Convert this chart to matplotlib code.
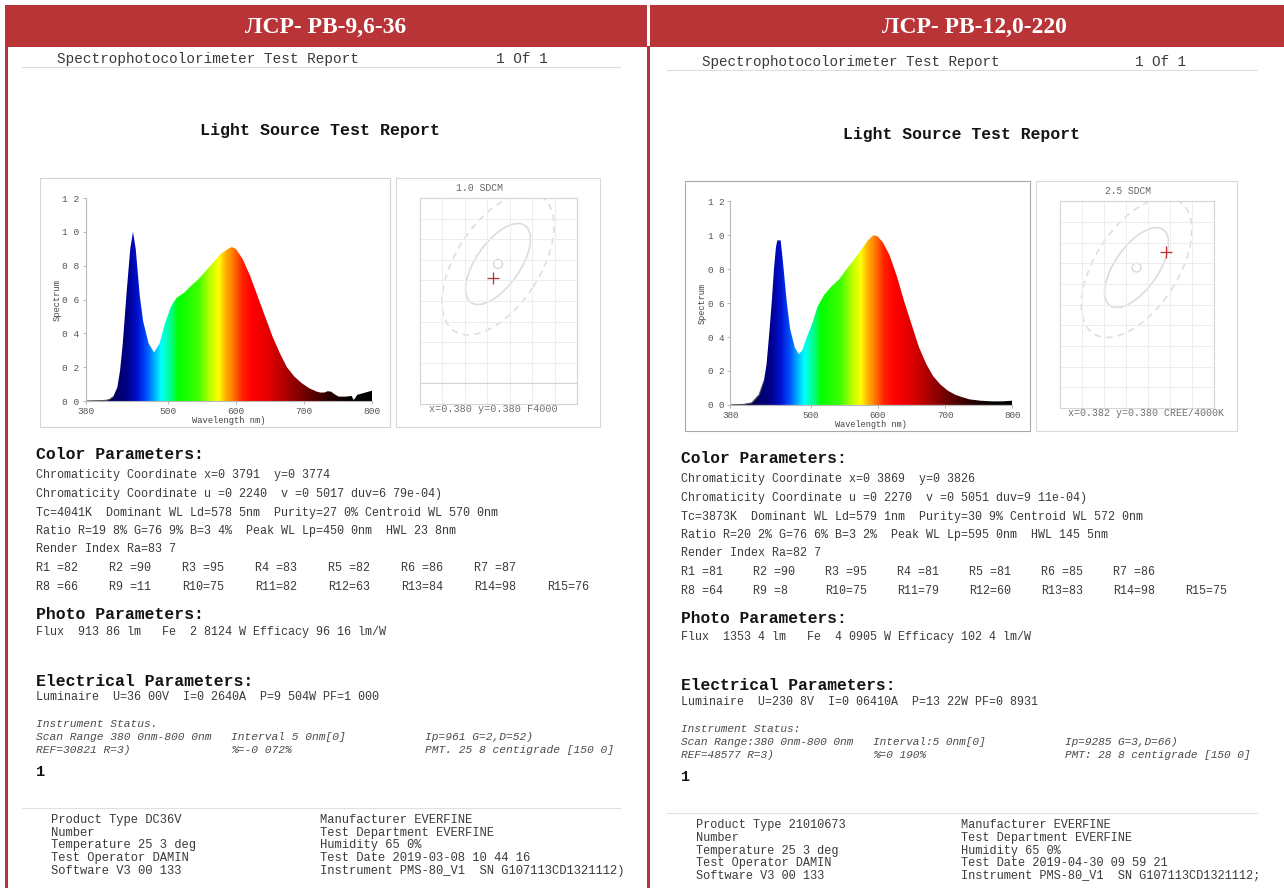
import matplotlib.pyplot as plt
import numpy as np
from matplotlib.colors import LinearSegmentedColormap
from matplotlib.patches import Ellipse, Polygon, Rectangle

W, H = 1284, 888
RED = '#b93436'
INK = '#3a3a3a'
DARK = '#141414'

plt.rcParams['font.family'] = ['Liberation Mono', 'DejaVu Sans']

# Заголовки двох протоколів
headers = ['ЛСР- РВ-9,6-36', 'ЛСР- РВ-12,0-220']

# Спектри: довжина хвилі (нм) і відносна інтенсивність
wl_left = [380, 400, 410, 415, 420, 426, 430, 434, 437, 440, 445, 449, 453, 456,
           459, 464, 472, 480, 488, 496, 505, 513, 524, 534, 545, 556, 567, 578,
           589, 594, 600, 610, 621, 632, 643, 654, 665, 675, 686, 697, 708, 719,
           724, 730, 735, 740, 745, 751, 762, 770, 773, 776, 778, 786, 800]
spec_left = [0.0, 0.002, 0.004, 0.01, 0.025, 0.08, 0.18, 0.34, 0.50, 0.66, 0.90,
             1.0, 0.90, 0.76, 0.62, 0.47, 0.34, 0.287, 0.34, 0.46, 0.56, 0.61, 0.64,
             0.68, 0.72, 0.77, 0.82, 0.87, 0.90, 0.91, 0.90, 0.84, 0.74, 0.62, 0.50,
             0.38, 0.28, 0.20, 0.144, 0.105, 0.075, 0.055, 0.05, 0.05, 0.058, 0.055,
             0.04, 0.026, 0.026, 0.03, 0.006, 0.02, 0.036, 0.045, 0.061]
wl_right = [380, 400, 412, 423, 430, 434, 438, 442, 445, 448, 450, 455, 458, 464,
            469, 476, 482, 487, 493, 502, 510, 520, 531, 542, 553, 564, 574, 585,
            593, 599, 607, 617, 628, 639, 650, 661, 672, 682, 693, 704, 715, 726,
            736, 752, 769, 785, 800]
spec_right = [0.0, 0.003, 0.012, 0.06, 0.14, 0.24, 0.42, 0.62, 0.80, 0.93, 0.97,
              0.97, 0.86, 0.61, 0.45, 0.34, 0.30, 0.32, 0.39, 0.48, 0.58, 0.65, 0.70,
              0.74, 0.80, 0.855, 0.91, 0.97, 1.0, 0.995, 0.96, 0.885, 0.76, 0.61,
              0.475, 0.34, 0.24, 0.17, 0.12, 0.084, 0.06, 0.045, 0.033, 0.025, 0.021,
              0.021, 0.025]
wavelengths = [wl_left, wl_right]
spectra = [spec_left, spec_right]

xtick_values = [380, 500, 600, 700, 800]
ytick_values = [0.0, 0.2, 0.4, 0.6, 0.8, 1.0, 1.2]
ytick_labels = ['0 0', '0 2', '0 4', '0 6', '0 8', '1 0', '1 2']

# Діаграма SDCM
sdcm_titles = ['1.0 SDCM', '2.5 SDCM']
sdcm_labels = ['x=0.380 y=0.380 F4000', 'x=0.382 y=0.380 CREE/4000K']
sdcm_centers = [(0.380, 0.380), (0.382, 0.380)]
measured_xy = [(0.3791, 0.3774), (0.3869, 0.3826)]

# Параметри кольору
color_lines_left = [
    'Chromaticity Coordinate x=0 3791  y=0 3774',
    'Chromaticity Coordinate u =0 2240  v =0 5017 duv=6 79e-04)',
    'Tc=4041K  Dominant WL Ld=578 5nm  Purity=27 0% Centroid WL 570 0nm',
    'Ratio R=19 8% G=76 9% B=3 4%  Peak WL Lp=450 0nm  HWL 23 8nm',
    'Render Index Ra=83 7',
]
color_lines_right = [
    'Chromaticity Coordinate x=0 3869  y=0 3826',
    'Chromaticity Coordinate u =0 2270  v =0 5051 duv=9 11e-04)',
    'Tc=3873K  Dominant WL Ld=579 1nm  Purity=30 9% Centroid WL 572 0nm',
    'Ratio R=20 2% G=76 6% B=3 2%  Peak WL Lp=595 0nm  HWL 145 5nm',
    'Render Index Ra=82 7',
]
ri_left = [82, 90, 95, 83, 82, 86, 87, 66, 11, 75, 82, 63, 84, 98, 76]
ri_right = [81, 90, 95, 81, 81, 85, 86, 64, 8, 75, 79, 60, 83, 98, 75]

photo_lines = ['Flux  913 86 lm   Fe  2 8124 W Efficacy 96 16 lm/W',
               'Flux  1353 4 lm   Fe  4 0905 W Efficacy 102 4 lm/W']
electric_lines = ['Luminaire  U=36 00V  I=0 2640A  P=9 504W PF=1 000',
                  'Luminaire  U=230 8V  I=0 06410A  P=13 22W PF=0 8931']

status_left = ['Instrument Status.',
               ['Scan Range 380 0nm-800 0nm', 'Interval 5 0nm[0]', 'Ip=961 G=2,D=52)'],
               ['REF=30821 R=3)', '%=-0 072%', 'PMT. 25 8 centigrade [150 0]']]
status_right = ['Instrument Status:',
                ['Scan Range:380 0nm-800 0nm', 'Interval:5 0nm[0]', 'Ip=9285 G=3,D=66)'],
                ['REF=48577 R=3)', '%=0 190%', 'PMT: 28 8 centigrade [150 0]']]

footer1_left = ['Product Type DC36V', 'Number', 'Temperature 25 3 deg',
                'Test Operator DAMIN', 'Software V3 00 133']
footer1_right = ['Product Type 21010673', 'Number', 'Temperature 25 3 deg',
                 'Test Operator DAMIN', 'Software V3 00 133']
footer2_left = ['Manufacturer EVERFINE', 'Test Department EVERFINE', 'Humidity 65 0%',
                'Test Date 2019-03-08 10 44 16', 'Instrument PMS-80_V1  SN G107113CD1321112)']
footer2_right = ['Manufacturer EVERFINE', 'Test Department EVERFINE', 'Humidity 65 0%',
                 'Test Date 2019-04-30 09 59 21', 'Instrument PMS-80_V1  SN G107113CD1321112;']

color_lines = [color_lines_left, color_lines_right]
ri_values = [ri_left, ri_right]
status_lines = [status_left, status_right]
footer1 = [footer1_left, footer1_right]
footer2 = [footer2_left, footer2_right]

# Кольори веселки для заливки спектра
spec_stops = [(380, '#000030'), (420, '#000060'), (440, '#00008a'), (455, '#0010d0'),
              (468, '#0050ff'), (480, '#00b0ff'), (490, '#00ffff'), (505, '#00ff80'),
              (515, '#00ff00'), (545, '#40ff00'), (560, '#b0ff00'), (575, '#ffff00'),
              (585, '#ffb000'), (595, '#ff8000'), (610, '#ff2000'), (625, '#ff0000'),
              (650, '#e00000'), (680, '#a00000'), (710, '#600000'), (740, '#280000'),
              (770, '#000000'), (800, '#000000')]
spec_cmap = LinearSegmentedColormap.from_list(
    'spec', [((w - 380) / 420, c) for w, c in spec_stops])

fig = plt.figure(figsize=(W / 100, H / 100), dpi=100)
bg = fig.add_axes([0, 0, 1, 1])
bg.set_xlim(0, W)
bg.set_ylim(H, 0)
bg.axis('off')


def px_axes(x0, y0, x1, y1):
    ax = fig.add_axes([x0 / W, 1 - y1 / H, (x1 - x0) / W, (y1 - y0) / H])
    ax.patch.set_alpha(0)
    return ax


# Функція для малювання одного протоколу
def draw_report(i, dx, dy, sx, sy):
    def p(x, y):
        return dx + (x - 36) * sx, dy + (y - 59) * sy

    def txt(x, y, t, size, **kw):
        X, Y = p(x, y)
        kw.setdefault('color', INK)
        bg.text(X, Y, t, fontsize=size * sx, va='center', **kw)

    def hline(x0, x1, y, color):
        X0, Y = p(x0, y)
        X1, _ = p(x1, y)
        bg.plot([X0, X1], [Y, Y], color=color, lw=0.8)

    def box(x0, y0, x1, y1, ec):
        X0, Y0 = p(x0, y0)
        X1, Y1 = p(x1, y1)
        bg.add_patch(Rectangle((X0, Y0), X1 - X0, Y1 - Y0, fill=False, ec=ec, lw=0.8))

    txt(57, 59, 'Spectrophotocolorimeter Test Report', 10.4)
    txt(496, 59, '1 Of 1', 10.4)
    hline(22, 620, 67, '#dedede')
    txt(320, 131, 'Light Source Test Report', 12, weight='bold', color=DARK, ha='center')

    # Спектр
    box(40, 178, 390, 427, ['#d4d4d4', '#a8a8a8'][i])
    X0, Y0 = p(86, 198)
    X1, Y1 = p(372, 401)
    ax = px_axes(X0, Y0, X1, Y1)
    wl, sp = wavelengths[i], spectra[i]
    im = ax.imshow(np.linspace(380, 800, 600)[None, :], extent=[380, 800, 0, 1.2],
                   origin='lower', aspect='auto', cmap=spec_cmap, vmin=380, vmax=800)
    poly = Polygon([(wl[0], 0)] + list(zip(wl, sp)) + [(wl[-1], 0)], closed=True,
                   fc='none', ec='none')
    ax.add_patch(poly)
    im.set_clip_path(poly)
    ax.plot(wl[:5], sp[:5], color='#555555', lw=0.8)
    ax.set_xlim(380, 800)
    ax.set_ylim(0, 1.2)
    ax.set_xticks(xtick_values)
    ax.set_yticks(ytick_values)
    ax.set_yticklabels(ytick_labels)
    for side in ['top', 'right']:
        ax.spines[side].set_visible(False)
    for side in ['left', 'bottom']:
        ax.spines[side].set_color('#b8b8b8')
        ax.spines[side].set_linewidth(0.8)
    ax.tick_params(length=2.5, width=0.6, color='#aaaaaa', labelcolor='#555555',
                   labelsize=6.8 * sx, pad=2)
    ax.set_ylabel('Spectrum', fontsize=6.3 * sx, color='#444444')
    ax.yaxis.set_label_coords(-0.085, 0.5)
    ax.set_xlabel('Wavelength nm)', fontsize=6.3 * sx, color='#444444')
    ax.xaxis.set_label_coords(0.5, -0.075)

    # SDCM
    box(396, 178, 600, 427, '#d8d8d8')
    X0, Y0 = p(420, 198)
    X1, Y1 = p(577, 404)
    ax2 = px_axes(X0, Y0, X1, Y1)
    cpx, cpy = p(498, 264)
    k = [5500, 6000][i]
    cx, cy = sdcm_centers[i]
    ax2.set_xlim(cx - (cpx - X0) / k, cx + (X1 - cpx) / k)
    ax2.set_ylim(cy - (Y1 - cpy) / k, cy + (cpy - Y0) / k)
    ax2.set_xticks(np.linspace(*ax2.get_xlim(), 8))
    ax2.set_yticks(np.linspace(*ax2.get_ylim(), 11))
    ax2.grid(color='#ededed', lw=0.7)
    ax2.tick_params(length=0, labelbottom=False, labelleft=False)
    for s in ax2.spines.values():
        s.set_color('#d4d4d4')
        s.set_linewidth(0.8)
    if i == 0:
        ax2.axhline(ax2.get_yticks()[1], color='#d2d2d2', lw=0.8)
    ax2.add_patch(Ellipse((cx, cy), 2 * 80 * sx / k, 2 * 42 * sx / k, angle=57,
                          fill=False, ec='#dedede', lw=1.2, ls=(0, (4, 3))))
    ax2.add_patch(Ellipse((cx, cy), 2 * 47 * sx / k, 2 * 22 * sx / k, angle=55,
                          fill=False, ec='#dcdcdc', lw=1.2))
    ax2.add_patch(Ellipse((cx, cy), 2 * 4.5 * sx / k, 2 * 4.5 * sx / k,
                          fill=False, ec='#d8d8d8', lw=1.0))
    mx, my = measured_xy[i]
    ax2.plot(mx, my, marker='+', ms=9, mew=0.9, color='#b5302f')
    txt([480, 489][i], 188, sdcm_titles[i], 7, color='#666666', ha='center')
    txt(429, 409, sdcm_labels[i], 7.3, color='#707070')

    # Параметри кольору
    txt(36, 454, 'Color Parameters:', 11.9, weight='bold', color=DARK)
    for j, line in enumerate(color_lines[i]):
        txt(36, [475, 494, 513, 531, 549][j], line, 8.45)
    for j, v in enumerate(ri_values[i]):
        n = j + 1
        label = 'R%d =%d' % (n, v) if n < 10 else 'R%d=%d' % (n, v)
        row, col = (0, j) if j < 7 else (1, j - 7)
        txt(36 + 73 * col, [568, 587][row], label, 8.45)

    txt(36, 614, 'Photo Parameters:', 11.9, weight='bold', color=DARK)
    txt(36, 632, photo_lines[i], 8.45)
    txt(36, 681, 'Electrical Parameters:', 11.9, weight='bold', color=DARK)
    txt(36, 697, electric_lines[i], 8.45)

    st = status_lines[i]
    txt(36, 724, st[0], 8.1, style='italic', color='#4a4a4a')
    for row, y in zip(st[1:], [737, 750]):
        for t, x in zip(row, [36, 231, 425]):
            txt(x, y, t, 8.1, style='italic', color='#4a4a4a')
    txt(36, 772, '1', 11, weight='bold', color=DARK)

    hline(22, 620, 808, '#e0e0e0')
    for j in range(5):
        y = 820 + 12.7 * j
        txt(51, y, footer1[i][j], 8.7)
        txt(320, y, footer2[i][j], 8.7)


# Червоні заголовки і рамки
bg.add_patch(Rectangle((5, 5), 642, 42, fc=RED, ec='none'))
bg.add_patch(Rectangle((650, 5), 634, 42, fc=RED, ec='none'))
bg.add_patch(Rectangle((4.5, 5), 3, 883, fc=RED, ec='none'))
bg.add_patch(Rectangle((647, 46), 3, 842, fc=RED, ec='none'))
for x, t in zip([326, 974], headers):
    bg.text(x, 27, t, fontsize=17, color='white', weight='bold', ha='center',
            va='center', family=['Liberation Serif', 'DejaVu Serif'])

draw_report(0, 36, 59, 1.0, 1.0)
draw_report(1, 681, 62, 0.986, 1.0027)

fig.savefig('out.png', dpi=100)
